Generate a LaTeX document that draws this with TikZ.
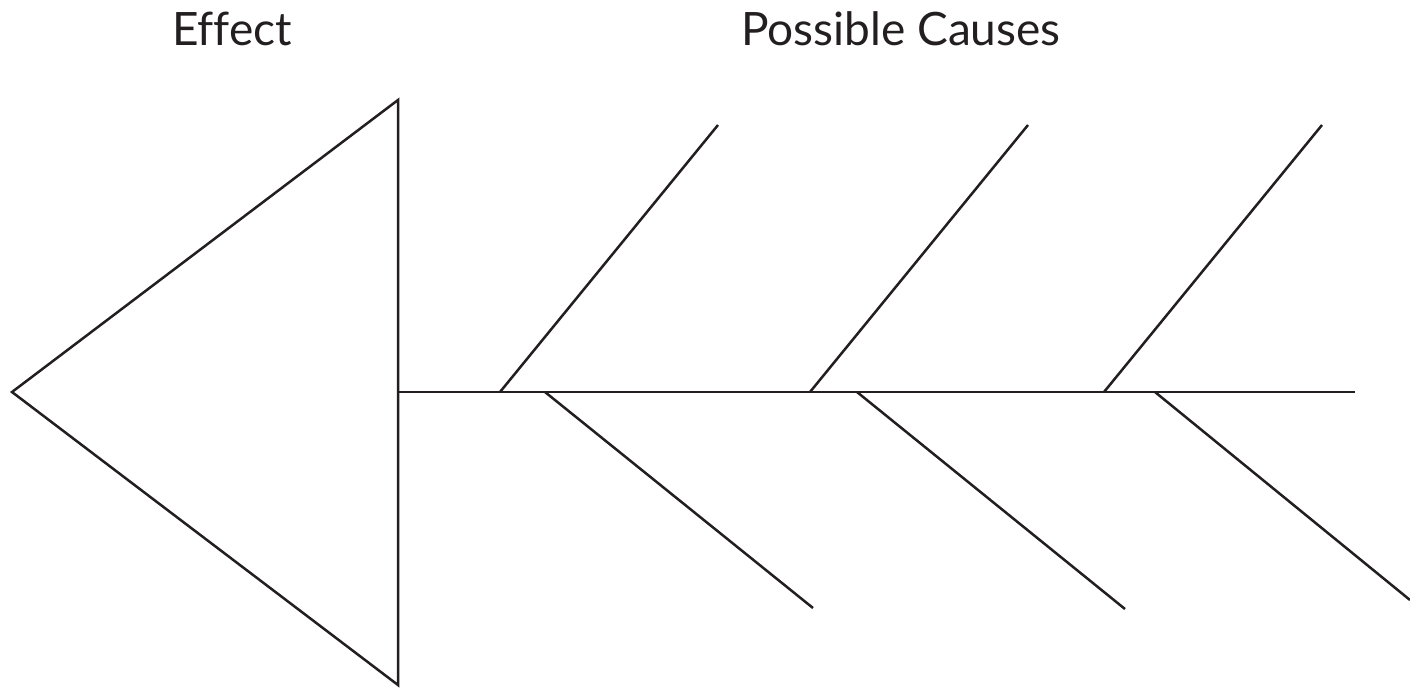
\documentclass[tikz,border=0pt]{standalone}
\usepackage{fontspec}
\setmainfont{Lato}[Ligatures=NoCommon]
\usepackage{xcolor}
\usetikzlibrary{calc}
\definecolor{ink}{HTML}{231F20}

\begin{document}
\begin{tikzpicture}[
            x=0.5pt, y=-0.5pt,
            bone/.style={line width=1.25pt, draw=ink},
            title/.style={anchor=base, text=ink, font=\fontsize{23}{27}\selectfont},
        ]
            \useasboundingbox (0,0) rectangle (1410,687);

            % --- headings ---
            \node[title] (effect) at (232,45) {Effect};
            \node[title] (causes) at (901,45) {Possible Causes};

            % --- head of the fish ---
            \coordinate (tip) at (12,392);
            \coordinate (headtop) at (398,100);
            \coordinate (headbot) at (398,685);
            \draw[bone, line join=miter] (tip) -- (headtop) -- (headbot) -- cycle;

            % --- spine ---
            \coordinate (neck) at (headtop |- tip);
            \coordinate (tail) at (1355,392);
            \draw[bone] (neck) -- (tail);

            % --- upper bones ---
            \coordinate (u1) at (500,392);  \coordinate (u1end) at (718,125);
            \coordinate (u2) at (810,392);  \coordinate (u2end) at (1028,125);
            \coordinate (u3) at (1104,392); \coordinate (u3end) at (1322,125);
            \draw[bone] (u1) -- (u1end);
            \draw[bone] (u2) -- (u2end);
            \draw[bone] (u3) -- (u3end);

            % --- lower bones (the last one runs off the edge) ---
            \coordinate (l1) at (545,392);  \coordinate (l1end) at (813,608);
            \coordinate (l2) at (857,392);  \coordinate (l2end) at (1125,609);
            \coordinate (l3) at (1155,392); \coordinate (l3end) at (1410,600);
            \draw[bone] (l1) -- (l1end);
            \draw[bone] (l2) -- (l2end);
            \draw[bone] (l3) -- (l3end);
        \end{tikzpicture}
\end{document}
